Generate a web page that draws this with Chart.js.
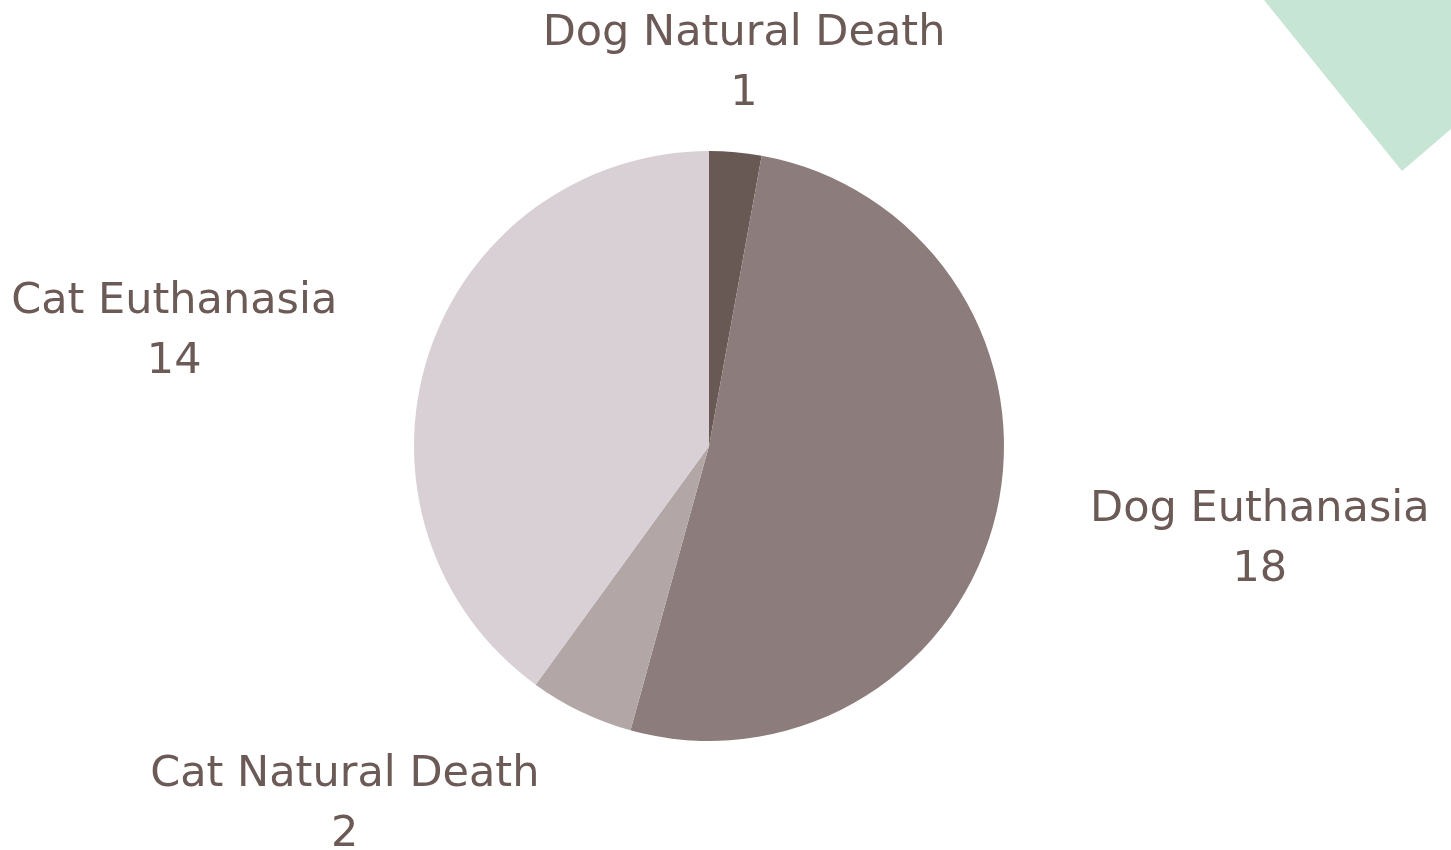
<!DOCTYPE html>
<html>
<head>
<meta charset="utf-8">
<script src="https://cdn.jsdelivr.net/npm/chart.js@4/dist/chart.umd.min.js"></script>
<style>
  html, body { margin: 0; padding: 0; background: #fff; }
  .wrap { position: relative; width: 1451px; height: 850px; overflow: hidden; }
  .corner {
    position: absolute; left: 0; top: 0; width: 1451px; height: 850px;
    background: #c6e5d4;
    clip-path: polygon(1264px 0, 1451px 0, 1451px 129px, 1402px 171px);
  }
  canvas { position: absolute; left: 0; top: 0; }
</style>
</head>
<body>
<div class="wrap">
  <div class="corner"></div>
  <canvas id="pie" width="1451" height="850"></canvas>
</div>
<script>
// ======= DATA =======
const categories = ['Dog Natural Death', 'Dog Euthanasia', 'Cat Natural Death', 'Cat Euthanasia'];
const counts = [1, 18, 2, 14];
const sliceColors = ['#695955', '#8c7c7b', '#b2a6a7', '#d9d0d5'];

const textColor = '#6b5a55';
const labelFont = '43px "DejaVu Sans"';

// Labels outside each slice: name on top, value below
const outsideLabels = {
  id: 'outsideLabels',
  afterDraw(chart) {
    const ctx = chart.ctx;
    const meta = chart.getDatasetMeta(0);
    ctx.save();
    ctx.font = labelFont;
    ctx.fillStyle = textColor;
    ctx.textBaseline = 'middle';
    meta.data.forEach((arc, i) => {
      const mid = (arc.startAngle + arc.endAngle) / 2;
      const r = arc.outerRadius * 1.325;
      const ax = arc.x + Math.cos(mid) * r;
      const ay = arc.y + Math.sin(mid) * r;
      const name = categories[i];
      const val = String(counts[i]);
      const w = Math.max(ctx.measureText(name).width, ctx.measureText(val).width);
      const dx = Math.cos(mid);
      let cx;
      if (Math.abs(dx) < 0.3) cx = ax;          // top / bottom: centred
      else if (dx > 0) cx = ax + w / 2;          // right side: left aligned
      else cx = ax - w / 2;                      // left side: right aligned
      ctx.textAlign = 'center';
      ctx.fillText(name, cx, ay - 23);
      ctx.fillText(val, cx, ay + 37);
    });
    ctx.restore();
  }
};

const ctx = document.getElementById('pie').getContext('2d');
new Chart(ctx, {
  type: 'pie',
  data: {
    labels: categories,
    datasets: [{
      data: counts,
      backgroundColor: sliceColors,
      borderWidth: 0
    }]
  },
  options: {
    responsive: false,
    animation: false,
    layout: {
      padding: { top: 151, bottom: 109, left: 414, right: 447 }
    },
    plugins: {
      legend: { display: false },
      tooltip: { enabled: false }
    }
  },
  plugins: [outsideLabels]
});
</script>
</body>
</html>
